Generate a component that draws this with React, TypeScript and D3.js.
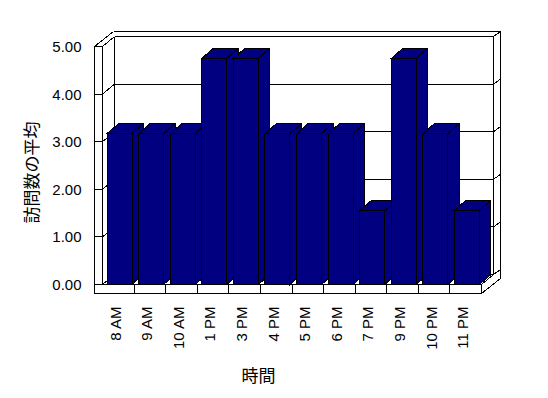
import React from "react";
import * as d3 from "d3";

const categories = ["8 AM", "9 AM", "10 AM", "1 PM", "3 PM", "4 PM", "5 PM", "6 PM", "7 PM", "9 PM", "10 PM", "11 PM"];
const visits = [3.17, 3.17, 3.17, 4.75, 4.75, 3.17, 3.17, 3.17, 1.55, 4.75, 3.17, 1.56];
const yTickValues = [0, 1, 2, 3, 4, 5];
const xTitle = "時間";
const yTitle = "訪問数の平均";

const W = 548;
const H = 398;
const X0 = 102.5;
const X1 = 481.5;
const DX = 12;
const DY = -10;
const EX = 7;
const EY = -5;
const XL = 94.5;
const YB = 293.5;
const BDX = 11.5;
const BDY = -10;
const BAR_OFF = 4.5;
const BAR_W = 25;
const NAVY = "#000080";
const LATIN = "'Liberation Sans', Arial, sans-serif";
const CJK = "'Noto Sans CJK JP', 'Noto Sans CJK SC', sans-serif";

export default function App() {
  const x = d3.scaleBand<string>().domain(categories).range([X0, X1]).padding(0);
  const y = d3.scaleLinear().domain([0, 5]).range([284.5, 46.5]);
  const bw = x.bandwidth();
  const y0 = y(0);
  const y5 = y(5);

  const segs: [number, number, number, number][] = [];
  // gridlines and wall ticks
  yTickValues.forEach((t) => {
    const yy = y(t);
    segs.push([XL, yy, X0, yy]);
    segs.push([X0, yy, X0 + DX, yy + DY]);
    segs.push([X0 + DX, yy + DY, X1 + DX, yy + DY]);
    segs.push([X1 + DX, yy + DY, X1 + DX + EX, yy + DY + EY]);
  });
  // outer top of walls
  segs.push([XL, y5, XL + DX + EX, y5 + DY + EY]);
  segs.push([XL + DX + EX, y5 + DY + EY, X1 + DX + EX, y5 + DY + EY]);
  // left wall front face
  segs.push([XL, y5, XL, YB]);
  segs.push([X0, y5, X0, y0]);
  // back wall verticals
  segs.push([X0 + DX, y5 + DY, X0 + DX, y0 + DY]);
  segs.push([X1 + DX, y5 + DY, X1 + DX, y0 + DY]);
  segs.push([X1 + DX + EX, y5 + DY + EY, X1 + DX + EX, YB + DY + EY]);
  // floor
  segs.push([X0, y0, X1, y0]);
  segs.push([XL, YB, X1, YB]);
  segs.push([X1, y0, X1, YB]);
  segs.push([X1, y0, X1 + DX, y0 + DY]);
  segs.push([X1, YB, X1 + DX + EX, YB + DY + EY]);
  categories.slice(1).forEach((c) => {
    const xx = x(c) as number;
    segs.push([xx, y0, xx, YB]);
  });

  const pts = (p: number[][]) => p.map((q) => q.join(",")).join(" ");

  return (
    <div style={{ position: "fixed", left: 0, top: 0 }}>
      <svg width={W} height={H} style={{ display: "block", background: "#fff" }}>
        <rect x={0} y={0} width={W} height={H} fill="#fff" />
        <g stroke="#000" strokeWidth={1} shapeRendering="crispEdges" fill="none">
          {segs.map((s, i) => (
            <line key={i} x1={s[0]} y1={s[1]} x2={s[2]} y2={s[3]} />
          ))}
        </g>
        <g stroke="#000" strokeWidth={1} fill={NAVY} shapeRendering="crispEdges" strokeLinejoin="miter">
          {categories.map((c, i) => {
            const xl = (x(c) as number) + BAR_OFF;
            const xr = xl + BAR_W;
            const yt = y(visits[i]);
            return (
              <g key={c}>
                <polygon points={pts([[xr, y0], [xr + BDX, y0 + BDY], [xr + BDX, yt + BDY], [xr, yt]])} />
                <polygon points={pts([[xl, yt], [xl + BDX, yt + BDY], [xr + BDX, yt + BDY], [xr, yt]])} />
                <rect x={xl} y={yt} width={BAR_W} height={y0 - yt} />
              </g>
            );
          })}
        </g>
        <g fontFamily={LATIN} fontSize={15} fill="#000">
          {yTickValues.map((t) => (
            <text key={t} x={81.5} y={y(t) + 5.5} textAnchor="end">
              {t.toFixed(2)}
            </text>
          ))}
          {categories.map((c) => (
            <text
              key={c}
              transform={`translate(${(x(c) as number) + bw / 2 + 2.4},306.5) rotate(-90)`}
              textAnchor="end"
            >
              {c}
            </text>
          ))}
        </g>
        <text x={258.5} y={382} textAnchor="middle" fontFamily={CJK} fontSize={17} fill="#000">
          {xTitle}
        </text>
        <text
          transform="translate(38,172.5) rotate(-90)"
          textAnchor="middle"
          fontFamily={CJK}
          fontSize={17}
          fill="#000"
        >
          {yTitle}
        </text>
      </svg>
    </div>
  );
}
